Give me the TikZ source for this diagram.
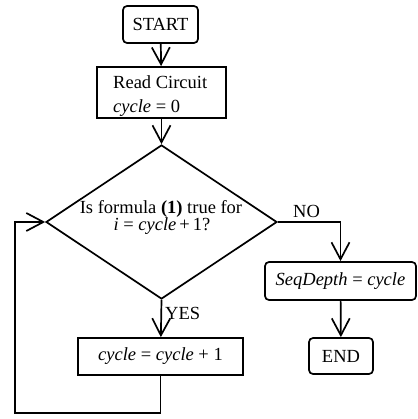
\documentclass[tikz,border=0pt]{standalone}
\usepackage{fontspec}
\setmainfont{Liberation Serif}
\usetikzlibrary{shapes.geometric,arrows.meta}
\begin{document}
\begin{tikzpicture}[x=1pt,y=-1pt,
  every node/.style={font=\fontsize{18.5}{22}\selectfont, inner sep=0pt},
  rbox/.style={draw, line width=1.7pt, rounded corners=4pt},
  sbox/.style={draw, line width=1.7pt},
  arr/.style={line width=1.7pt, -{Straight Barb[length=17pt,width=18pt]}}]
\useasboundingbox (0,0) rectangle (417,419);
% nodes
\node[rbox, minimum width=75pt, minimum height=37pt] (start) at (160.5,24.5) {START};
\node[sbox, minimum width=129pt, minimum height=51pt] (read) at (161.5,92.5) {};
\node[anchor=base west] (readt1) at (113,89) {Read Circuit};
\node[anchor=base west] (readt2) at (113,113) {\textit{cycle} = 0};
\node[diamond, draw, line width=1.7pt, minimum width=231pt, minimum height=154pt] (dec) at (161.5,222) {};
\node[anchor=base] (dect1) at (161,213) {Is formula \textbf{(1)} true for};
\node[anchor=base] (dect2) at (162,230) {\textit{i} = \textit{cycle}\,+\,1?};
\node[rbox, minimum width=151pt, minimum height=38pt] (seq) at (340.5,281) {\textit{SeqDepth} = \textit{cycle}};
\node[rbox, minimum width=64pt, minimum height=36pt] (end) at (341,356) {END};
\node[sbox, minimum width=165pt, minimum height=37pt] (inc) at (160.5,356.5) {\textit{cycle} = \textit{cycle} + 1};
\node[anchor=base west] (no) at (293,218) {NO};
\node[anchor=base west] (yes) at (165,319) {YES};
\coordinate (c1) at (15,413);
% connectors
\draw[arr] (start) -- (read);
\draw[arr] (read) -- (dec.north);
\draw[arr] (dec.south) -- (inc);
\draw[arr] (dec.east) -| (seq.north);
\draw[arr] (seq) -- (end);
\draw[arr] (inc.south) |- (c1) |- (dec.west);
\end{tikzpicture}
\end{document}
